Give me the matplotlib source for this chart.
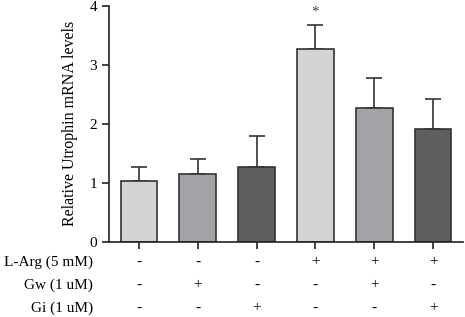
import numpy as np
import matplotlib.pyplot as plt
from matplotlib import transforms

plt.rcParams['font.family'] = ['Liberation Serif', 'DejaVu Serif']

# data
means = [1.03, 1.15, 1.27, 3.27, 2.27, 1.91]
errs = [0.24, 0.25, 0.52, 0.41, 0.51, 0.51]
colors = ["#d4d4d4", "#a3a2a7", "#5f5f5f", "#d4d4d4", "#a3a2a7", "#5f5f5f"]
row_names = ["L-Arg (5 mM)", "Gw (1 uM)", "Gi (1 uM)"]
larg = ["-", "-", "-", "+", "+", "+"]
gw = ["-", "+", "-", "-", "+", "-"]
gi = ["-", "-", "+", "-", "-", "+"]

fig = plt.figure(figsize=(4.65, 3.17), dpi=100)
ax = fig.add_axes([0.234, 0.2375, 0.762, 0.7435])

x = np.arange(len(means))
ax.bar(x, means, width=0.62, color=colors, edgecolor="#333333", linewidth=1.2, zorder=2)
ax.errorbar(x, means, yerr=[np.zeros(len(errs)), errs], fmt="none",
            ecolor="#333333", elinewidth=1.2, capsize=6, capthick=1.2, zorder=1)

# significance mark
ax.text(x[3], means[3] + errs[3] + 0.1, "*", ha="center", va="bottom",
        fontsize=11, color="#444444")

ax.set_xlim(-0.51, 5.51)
ax.set_ylim(0, 4)
ax.set_yticks([0, 1, 2, 3, 4])
ax.set_xticks(x)
ax.set_xticklabels([])
ax.tick_params(axis="both", direction="out", length=5, width=1.2, labelsize=11, color="#222222")
for s in ["top", "right"]:
    ax.spines[s].set_visible(False)
for s in ["left", "bottom"]:
    ax.spines[s].set_linewidth(1.2)
    ax.spines[s].set_color("#222222")

ax.set_ylabel("Relative Utrophin mRNA levels", fontsize=11.5, labelpad=8)

# treatment table under the axis
trans = transforms.blended_transform_factory(ax.transData, fig.transFigure)
rows_y = [1 - 262 / 317, 1 - 285 / 317, 1 - 308 / 317]
for name, signs, yy in zip(row_names, [larg, gw, gi], rows_y):
    fig.text(93 / 465, yy, name, ha="right", va="center", fontsize=11)
    for xi, s in zip(x, signs):
        ax.text(xi, yy, s, transform=trans, ha="center", va="center", fontsize=11)

fig.savefig("out.png", dpi=100)
